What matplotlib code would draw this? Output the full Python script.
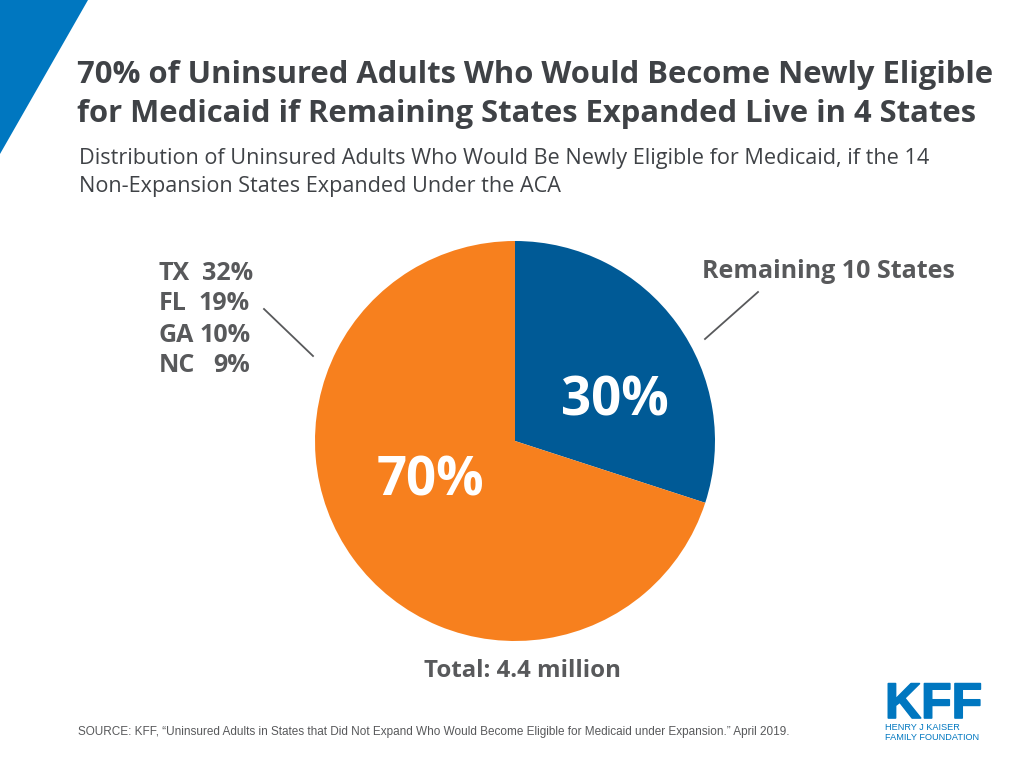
import matplotlib
matplotlib.use("Agg")
import matplotlib.pyplot as plt
import matplotlib.patheffects as pe
from matplotlib.patches import Polygon

plt.rcParams['font.family'] = ['Open Sans', 'DejaVu Sans']

W, H = 1028, 768

title_lines = ["70% of Uninsured Adults Who Would Become Newly Eligible",
               "for Medicaid if Remaining States Expanded Live in 4 States"]
subtitle_lines = ["Distribution of Uninsured Adults Who Would Be Newly Eligible for Medicaid, if the 14",
                  "Non-Expansion States Expanded Under the ACA"]
slices = [30, 70]
slice_labels = ["30%", "70%"]
slice_colors = ["#005a96", "#f7801e"]
states = ["TX", "FL", "GA", "NC"]
state_shares = ["32%", "19%", "10%", "9%"]
source = ("SOURCE: KFF, \u201cUninsured Adults in States that Did Not Expand Who Would "
          "Become Eligible for Medicaid under Expansion.\u201d April 2019.")

DARK = "#3f4246"
GREY = "#58595b"
BLUE = "#0077c0"

fig = plt.figure(figsize=(W / 100, H / 100), dpi=100)

# full-figure overlay in pixel coordinates, y pointing down
bg = fig.add_axes((0, 0, 1, 1))
bg.set_xlim(0, W)
bg.set_ylim(H, 0)
bg.axis("off")

bg.add_patch(Polygon([(0, 0), (88, 0), (0, 154)], closed=True, color=BLUE, lw=0))

for y, line in zip((75, 114), title_lines):
    bg.text(77, y, line, fontsize=22.3, fontweight="bold", color=DARK, va="center", ha="left")
for y, line in zip((158.5, 186.5), subtitle_lines):
    bg.text(79, y, line, fontsize=15.6, color=DARK, va="center", ha="left")

# pie, 200px radius around (515, 441)
ax = fig.add_axes((315 / W, 1 - 641 / H, 400 / W, 400 / H))
ax.pie(slices, colors=slice_colors, startangle=90, counterclock=False, radius=1,
       wedgeprops={"linewidth": 0})
ax.set_xlim(-1, 1)
ax.set_ylim(-1, 1)

bg.set_zorder(2)
bg.patch.set_alpha(0)

bg.text(615, 402, slice_labels[0], fontsize=38, fontweight="bold", color="white", ha="center", va="center")
bg.text(430, 482, slice_labels[1], fontsize=38, fontweight="bold", color="white", ha="center", va="center")

# state list, the share column is hand placed in the original so edges differ a bit
for y, right, st, share in zip((274, 304, 336, 366), (253, 250, 251, 250), states, state_shares):
    bg.text(158.5, y, st, fontsize=18, fontweight="bold", color=GREY, ha="left", va="center")
    bg.text(right, y, share, fontsize=18, fontweight="bold", color=GREY, ha="right", va="center")

bg.text(828, 272, "Remaining 10 States", fontsize=18, fontweight="bold", color=GREY, ha="center", va="center")
bg.plot([264, 313], [309, 356], color=GREY, lw=1.3)
bg.plot([758, 705], [292, 339], color=GREY, lw=1.3)

bg.text(522, 671, "Total: 4.4 million", fontsize=17.3, fontweight="bold", color=GREY, ha="center", va="center")

bg.text(78, 732, source, fontsize=8.48, color=GREY, family=["Liberation Sans"], ha="left", va="center")

# KFF logo, stroke makes up for the heavier original lettering
bg.text(885, 718, "KFF", fontsize=36, fontweight="bold", color=BLUE, family=["Liberation Sans"],
        ha="left", va="baseline", path_effects=[pe.withStroke(linewidth=1.2, foreground=BLUE)])
bg.text(885, 727, "HENRY J KAISER", fontsize=6.6, color=BLUE, family=["Liberation Sans"], ha="left", va="center")
bg.text(885, 737.5, "FAMILY FOUNDATION", fontsize=6.6, color=BLUE, family=["Liberation Sans"], ha="left", va="center")

fig.savefig("out.png", dpi=100)
